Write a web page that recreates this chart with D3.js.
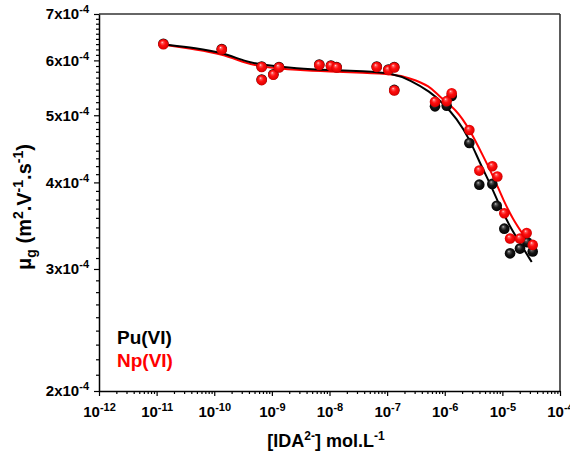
<!DOCTYPE html>
<html>
<head>
<meta charset="utf-8">
<script src="https://cdn.jsdelivr.net/npm/d3@7"></script>
<style>
  html, body { margin: 0; padding: 0; background: #fff; }
  svg { display: block; }
  text { font-family: "Liberation Sans", Arial, sans-serif; font-weight: bold; }
  .ticklab { font-size: 15px; }
  .ticklab .sup { font-size: 11px; }
</style>
</head>
<body>
<svg id="chart" width="570" height="459"></svg>
<script>
// ---------- data ----------
const xTickValues = [1e-12, 1e-11, 1e-10, 1e-9, 1e-8, 1e-7, 1e-6, 1e-5, 1e-4];
const xTickExponents = ["-12", "-11", "-10", "-9", "-8", "-7", "-6", "-5", "-4"];
const yTickValues = [2e-4, 3e-4, 4e-4, 5e-4, 6e-4, 7e-4];
const yTickMantissas = ["2", "3", "4", "5", "6", "7"];

// Pu(VI) measured points (black)
const puX = [1.31e-11, 1.35e-10, 6.65e-10, 6.65e-10, 1.06e-9, 1.33e-9, 6.65e-9, 1.06e-8, 1.33e-8, 6.6e-8, 1.05e-7, 1.33e-7, 1.33e-7,
             6.78e-7, 1.08e-6, 1.32e-6, 2.67e-6, 3.98e-6, 6.68e-6, 7.98e-6, 1.08e-5, 1.36e-5, 2.02e-5, 2.7e-5, 3.36e-5];
const puY = [6.34e-4, 6.23e-4, 5.88e-4, 5.63e-4, 5.73e-4, 5.87e-4, 5.92e-4, 5.90e-4, 5.87e-4, 5.88e-4, 5.82e-4, 5.87e-4, 5.44e-4,
             5.15e-4, 5.16e-4, 5.33e-4, 4.56e-4, 3.97e-4, 3.98e-4, 3.70e-4, 3.43e-4, 3.16e-4, 3.21e-4, 3.28e-4, 3.18e-4];

// Np(VI) measured points (red)
const npX = [1.31e-11, 1.35e-10, 6.65e-10, 6.65e-10, 1.06e-9, 1.33e-9, 6.65e-9, 1.06e-8, 1.33e-8, 6.6e-8, 1.05e-7, 1.33e-7, 1.33e-7,
             6.78e-7, 1.08e-6, 1.32e-6, 2.67e-6, 3.98e-6, 6.68e-6, 8.17e-6, 1.08e-5, 1.36e-5, 2.02e-5, 2.64e-5, 3.36e-5];
const npY = [6.33e-4, 6.22e-4, 5.87e-4, 5.62e-4, 5.72e-4, 5.86e-4, 5.91e-4, 5.89e-4, 5.86e-4, 5.87e-4, 5.81e-4, 5.86e-4, 5.43e-4,
             5.23e-4, 5.24e-4, 5.38e-4, 4.76e-4, 4.16e-4, 4.22e-4, 4.08e-4, 3.61e-4, 3.32e-4, 3.32e-4, 3.38e-4, 3.25e-4];

// fitted curves
const puFitX = [1.31e-11, 4.95e-11, 1.35e-10, 3.66e-10, 7.1e-10, 2.7e-9, 1.02e-8, 3.86e-8, 1.28e-7, 2.49e-7, 5.55e-7, 9.45e-7,
                1.61e-6, 2.74e-6, 4.09e-6, 6.1e-6, 9.1e-6, 1.36e-5, 2.02e-5, 3.23e-5];
const puFitY = [6.33e-4, 6.25e-4, 6.16e-4, 5.97e-4, 5.91e-4, 5.84e-4, 5.81e-4, 5.79e-4, 5.75e-4, 5.62e-4, 5.41e-4, 5.20e-4,
                4.95e-4, 4.61e-4, 4.26e-4, 3.99e-4, 3.69e-4, 3.45e-4, 3.27e-4, 3.07e-4];
const npFitX = [1.31e-11, 4.95e-11, 1.35e-10, 3.66e-10, 7.1e-10, 2.7e-9, 1.02e-8, 3.86e-8, 1.28e-7, 2.49e-7, 5.55e-7, 7.94e-7,
                1.61e-6, 2.74e-6, 4.67e-6, 6.97e-6, 1.04e-5, 1.55e-5, 2.31e-5, 3.68e-5];
const npFitY = [6.32e-4, 6.22e-4, 6.13e-4, 5.94e-4, 5.87e-4, 5.81e-4, 5.78e-4, 5.76e-4, 5.73e-4, 5.66e-4, 5.51e-4, 5.32e-4,
                5.09e-4, 4.76e-4, 4.36e-4, 4.08e-4, 3.77e-4, 3.53e-4, 3.36e-4, 3.18e-4];

const legendLabels = ["Pu(VI)", "Np(VI)"];
const seriesColors = ["#000000", "#ff0000"];

// ---------- layout ----------
const svg = d3.select("#chart");
const L = 99, R = 560, T = 14, B = 391;

const x = d3.scaleLog().domain([1e-12, 1e-4]).range([L, R]);
const y = d3.scaleLog().domain([2e-4, 7e-4]).range([B, T]);

// gradients for shaded balls
const defs = svg.append("defs");
function ball(id, stops) {
  const g = defs.append("radialGradient").attr("id", id)
    .attr("cx", "0.5").attr("cy", "0.5").attr("r", "0.55").attr("fx", "0.38").attr("fy", "0.3");
  stops.forEach(s => g.append("stop").attr("offset", s[0]).attr("stop-color", s[1]));
}
ball("ballRed", [["0%", "#ffe6e6"], ["18%", "#ff5a5a"], ["45%", "#ff1010"], ["85%", "#e00000"], ["100%", "#a00000"]]);
ball("ballBlack", [["0%", "#c8c8c8"], ["20%", "#555555"], ["50%", "#151515"], ["100%", "#000000"]]);

// frame top & right
svg.append("line").attr("x1", L).attr("x2", R).attr("y1", T).attr("y2", T)
  .attr("stroke", "#333").attr("stroke-width", 1.3);
svg.append("line").attr("x1", R).attr("x2", R).attr("y1", T).attr("y2", B)
  .attr("stroke", "#333").attr("stroke-width", 1.6);

// minor ticks
const xMinor = [];
for (let e = -12; e < -4; e++) for (let m = 2; m <= 9; m++) xMinor.push(m * Math.pow(10, e));
const yMinor = [];
for (let k = 2; k < 7; k++) for (let j = 1; j <= 8; j++) yMinor.push((k + j / 9) * 1e-4);

const gxMinor = svg.append("g").attr("transform", `translate(0,${B})`)
  .call(d3.axisBottom(x).tickValues(xMinor).tickSize(3).tickFormat(""));
gxMinor.select(".domain").remove();
const gyMinor = svg.append("g").attr("transform", `translate(${L},0)`)
  .call(d3.axisLeft(y).tickValues(yMinor).tickSize(3).tickFormat(""));
gyMinor.select(".domain").remove();

// major axes
const gx = svg.append("g").attr("transform", `translate(0,${B})`)
  .call(d3.axisBottom(x).tickValues(xTickValues).tickSize(5).tickSizeOuter(0));
const gy = svg.append("g").attr("transform", `translate(${L},0)`)
  .call(d3.axisLeft(y).tickValues(yTickValues).tickSize(5).tickSizeOuter(0).tickPadding(5));

[gx, gy].forEach(g => g.attr("font-size", 15).attr("font-family", null));
[gx, gy, gxMinor, gyMinor].forEach(g => {
  g.selectAll("line").attr("stroke", "#000").attr("stroke-width", 1.2);
  g.selectAll(".domain").attr("stroke", "#000").attr("stroke-width", 1.5);
});

gx.selectAll(".tick text").each(function(d, i) {
  const t = d3.select(this);
  t.text(null);
  t.classed("ticklab", true).attr("fill", "#000").attr("y", 26).attr("dy", 0);
  t.append("tspan").text("10");
  t.append("tspan").attr("class", "sup").attr("dy", -6).text(xTickExponents[i]);
});
gy.selectAll(".tick text").each(function(d, i) {
  const t = d3.select(this);
  t.text(null);
  t.classed("ticklab", true).attr("fill", "#000").attr("dy", "0.32em");
  t.append("tspan").text(yTickMantissas[i] + "x10");
  t.append("tspan").attr("class", "sup").attr("dy", -6).text("-4");
});

// fitted curves
const line = d3.line().x(d => x(d[0])).y(d => y(d[1])).curve(d3.curveBasis);
svg.append("path").datum(npFitX.map((v, i) => [v, npFitY[i]]))
  .attr("d", line).attr("fill", "none").attr("stroke", seriesColors[1]).attr("stroke-width", 2);
svg.append("path").datum(puFitX.map((v, i) => [v, puFitY[i]]))
  .attr("d", line).attr("fill", "none").attr("stroke", seriesColors[0]).attr("stroke-width", 2);

// points
svg.append("g").selectAll("circle").data(puX.map((v, i) => [v, puY[i]])).join("circle")
  .attr("cx", d => x(d[0])).attr("cy", d => y(d[1])).attr("r", 5.3).attr("fill", "url(#ballBlack)");
svg.append("g").selectAll("circle").data(npX.map((v, i) => [v, npY[i]])).join("circle")
  .attr("cx", d => x(d[0])).attr("cy", d => y(d[1])).attr("r", 5.3).attr("fill", "url(#ballRed)");

// legend
legendLabels.forEach((lab, i) => {
  svg.append("text").attr("x", 117).attr("y", 344 + i * 23)
    .attr("font-size", 19).attr("fill", seriesColors[i]).text(lab);
});

// x axis title
const xt = svg.append("text").attr("x", 326).attr("y", 447).attr("text-anchor", "middle")
  .attr("font-size", 18).attr("fill", "#000");
xt.append("tspan").text("[IDA");
xt.append("tspan").attr("font-size", 12).attr("dy", -7).text("2-");
xt.append("tspan").attr("dy", 7).text("] mol.L");
xt.append("tspan").attr("font-size", 12).attr("dy", -7).text("-1");

// y axis title
const yt = svg.append("text").attr("transform", "translate(31,207) rotate(-90)")
  .attr("text-anchor", "middle").attr("font-size", 20).attr("fill", "#000");
yt.append("tspan").text("\u03bc");
yt.append("tspan").attr("font-size", 14).attr("dy", 5).text("g");
yt.append("tspan").attr("dy", -5).text(" (m");
yt.append("tspan").attr("font-size", 14).attr("dy", -8).text("2");
yt.append("tspan").attr("dy", 8).text(".V");
yt.append("tspan").attr("font-size", 14).attr("dy", -8).text("-1");
yt.append("tspan").attr("dy", 8).text(".s");
yt.append("tspan").attr("font-size", 14).attr("dy", -8).text("-1");
yt.append("tspan").attr("dy", 8).text(")");
</script>
</body>
</html>
